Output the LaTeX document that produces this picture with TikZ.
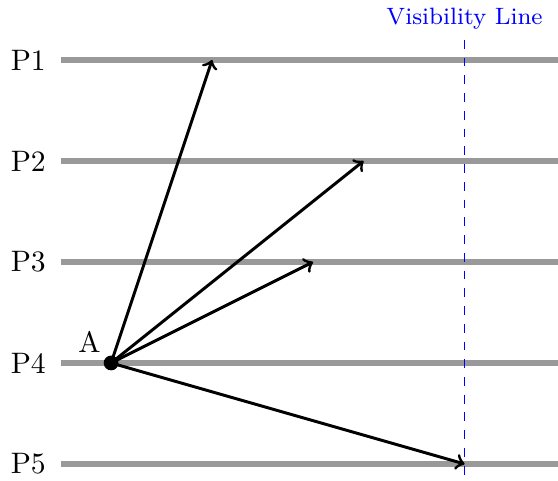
\documentclass[tikz,border=0pt]{standalone}
\usepackage{tikz}

\tikzset{
	row/.style={gray!80,line width=1.9pt},
	ray/.style={->,line width=1pt,black},
	vis/.style={blue,dashed,semithick}
}

\begin{document}
\begin{tikzpicture}[x=1.2cm,y=1.2cm]
		\clip (-1.1,-0.16) rectangle (4.425,4.594);
		
		% rows
		\draw[row] (-0.5,4) -- (4.6,4);
		\draw[row] (-0.5,3) -- (4.6,3);
		\draw[row] (-0.5,2) -- (4.6,2);
		\draw[row] (-0.5,1) -- (4.6,1);
		\draw[row] (-0.5,0) -- (4.6,0);
		
		\node (p1) at (-0.82,4) {P1};
		\node (p2) at (-0.82,3) {P2};
		\node (p3) at (-0.82,2) {P3};
		\node (p4) at (-0.82,1) {P4};
		\node (p5) at (-0.82,0) {P5};
		
		% visibility line
		\coordinate (vtop) at (3.5,4.2);
		\coordinate (vbot) at (3.5,-0.3);
		\draw[vis] (vtop) -- (vbot);
		\node[above,blue,font=\footnotesize] (vlab) at (vtop) {Visibility Line};
		
		% rays from A
		\coordinate (A) at (0,1);
		\coordinate (t1) at (1,4);
		\coordinate (t2) at (2.5,3);
		\coordinate (t3) at (2,2);
		\coordinate (t5) at (3.5,0);
		
		\draw[ray] (A) -- (t1);
		\draw[ray] (A) -- (t2);
		\draw[ray] (A) -- (t3);
		\draw[ray] (A) -- (t5);
		
		\fill (A) circle (2.5pt);
		\node[above left] (alab) at (A) {A};
	\end{tikzpicture}
\end{document}
